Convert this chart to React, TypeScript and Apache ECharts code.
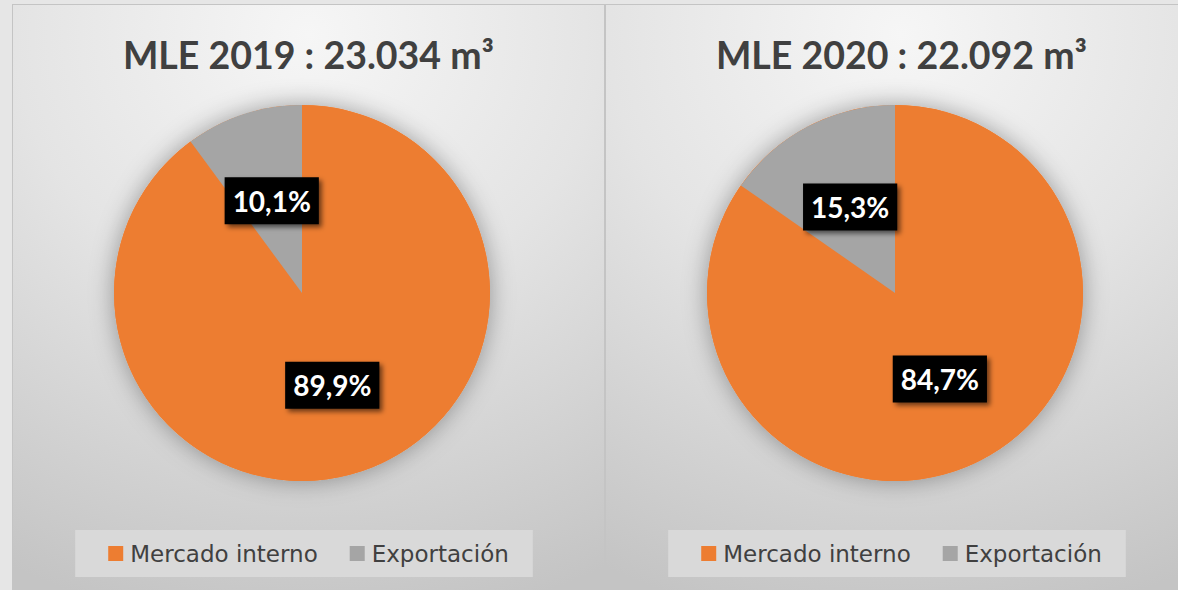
import React, { useEffect, useRef } from "react";
import * as echarts from "echarts";

const years = ["2019", "2020"];
const totals = ["23.034", "22.092"];
const categories = ["Mercado interno", "Exportación"];
const mercadoInterno = [89.9, 84.7];
const exportacion = [10.1, 15.3];
const colors = ["#ED7D31", "#A5A5A5"];

const fmt = (v: number) => v.toFixed(1).replace(".", ",") + "%";

function Panel({ idx, left }: { idx: number; left: number }) {
  const ref = useRef<HTMLDivElement>(null);
  useEffect(() => {
    if (!ref.current) return;
    const chart = echarts.init(ref.current, null, { renderer: "svg" });
    const values = [mercadoInterno[idx], exportacion[idx]];
    const center = [289, 288];
    const radius = 188;
    chart.setOption({
      animation: false,
      backgroundColor: "transparent",
      title: {
        text: `MLE ${years[idx]} : ${totals[idx]} m³`,
        left: "center",
        top: 25,
        textStyle: {
          fontFamily: "Lato",
          fontWeight: "bold",
          fontSize: 37.5,
          color: "#404040",
        },
      },
      legend: {
        data: categories,
        left: "center",
        top: 525,
        padding: [12, 24, 12, 33],
        backgroundColor: "#d9d9d9",
        itemWidth: 15,
        itemHeight: 15,
        itemGap: 32,
        icon: "rect",
        selectedMode: false,
        textStyle: {
          fontFamily: "DejaVu Sans",
          fontSize: 23,
          color: "#404040",
          padding: [0, 0, 0, 2],
        },
      },
      series: [
        {
          type: "pie",
          name: "backdrop",
          center,
          radius,
          silent: true,
          z: 1,
          label: { show: false },
          labelLine: { show: false },
          itemStyle: {
            color: colors[0],
            shadowBlur: 24,
            shadowColor: "rgba(0,0,0,0.35)",
          },
          data: [{ value: values[0] + values[1], name: "" }],
        },
        {
          type: "pie",
          name: `MLE ${years[idx]}`,
          center,
          radius,
          z: 2,
          startAngle: 90,
          clockwise: true,
          silent: true,
          label: {
            show: true,
            position: "inside",
            formatter: (p: any) => fmt(p.value),
            color: "#ffffff",
            fontFamily: "Lato",
            fontWeight: "bold",
            fontSize: 28,
            lineHeight: 28,
            backgroundColor: "#000000",
            padding: [10, 8, 9, 8],
            shadowBlur: 5,
            shadowColor: "rgba(0,0,0,0.55)",
            shadowOffsetX: 3,
            shadowOffsetY: 3,
          },
          labelLine: { show: false },
          data: categories.map((c, i) => ({
            name: c,
            value: values[i],
            itemStyle: { color: colors[i] },
          })),
        },
      ],
    });
    return () => chart.dispose();
  }, [idx]);

  return (
    <div
      style={{
        position: "absolute",
        left,
        top: 4,
        width: 593,
        height: 600,
        boxSizing: "border-box",
        border: "1px solid #c4c4c4",
        background:
          "radial-gradient(ellipse 110% 100% at 50% 5%, #f6f6f6 0%, #e4e4e4 45%, #c4c4c4 100%)",
      }}
    >
      <div ref={ref} style={{ position: "absolute", left: 0, top: 0, width: 591, height: 598 }} />
    </div>
  );
}

export default function App() {
  return (
    <div
      style={{
        position: "fixed",
        left: 0,
        top: 0,
        width: 1178,
        height: 590,
        overflow: "hidden",
        background: "#e6e6e6",
      }}
    >
      <Panel idx={0} left={12} />
      <Panel idx={1} left={605} />
    </div>
  );
}
